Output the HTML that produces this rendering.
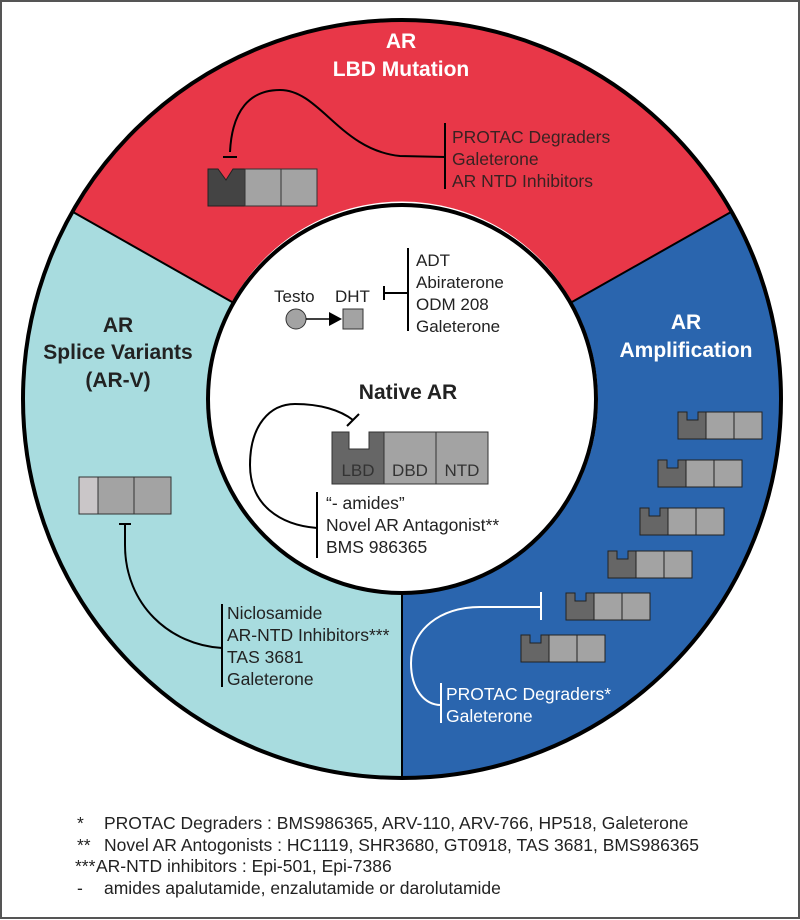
<!DOCTYPE html>
<html><head><meta charset="utf-8"><style>
html,body{margin:0;padding:0;background:#fff;}
svg{display:block;}
text{font-family:"Liberation Sans",Arial,sans-serif;}
</style></head><body>
<svg width="800" height="920" viewBox="0 0 800 920" xmlns="http://www.w3.org/2000/svg">
<rect x="1" y="1" width="798" height="917" fill="#fff" stroke="#555" stroke-width="2"/>
<!-- segments -->
<path d="M73,212 A379,379 0 0 1 731,212 L572,302 A194,194 0 0 0 232,302 Z" fill="#e83748"/>
<path d="M731,212 A379,379 0 0 1 402,778 L402,593 A194,194 0 0 0 572,302 Z" fill="#2a65ae"/>
<path d="M402,778 A379,379 0 0 1 73,212 L232,302 A194,194 0 0 0 402,593 Z" fill="#a8dcdf"/>
<line x1="73" y1="212" x2="232" y2="302" stroke="#000" stroke-width="2"/>
<line x1="731" y1="212" x2="572" y2="302" stroke="#000" stroke-width="2"/>
<line x1="402" y1="778" x2="402" y2="593" stroke="#000" stroke-width="2"/>
<circle cx="402" cy="399" r="379" fill="none" stroke="#000" stroke-width="4"/>
<circle cx="402" cy="399" r="194" fill="#fff" stroke="#000" stroke-width="4"/>

<!-- titles -->
<g font-weight="bold" font-size="21" text-anchor="middle">
<text x="401" y="48" fill="#fff">AR</text>
<text x="401" y="76" fill="#fff">LBD Mutation</text>
<text x="118" y="332" fill="#222">AR</text>
<text x="118" y="359" fill="#222">Splice Variants</text>
<text x="118" y="387" fill="#222">(AR-V)</text>
<text x="686" y="329" fill="#fff">AR</text>
<text x="686" y="357" fill="#fff">Amplification</text>
<text x="408" y="399" fill="#222">Native AR</text>
</g>

<!-- LBD mutation -->
<path d="M230,152 C232,110 250,90 280,90 C320,90 340,150 400,156 L445,157" fill="none" stroke="#000" stroke-width="2"/>
<line x1="223" y1="157" x2="237" y2="157" stroke="#000" stroke-width="2"/>
<line x1="445" y1="123" x2="445" y2="189" stroke="#000" stroke-width="2"/>
<path d="M208,169 L218,169 L226,180 L233,169 L245,169 L245,206 L208,206 Z" fill="#444" stroke="#222" stroke-width="1"/>
<rect x="245" y="169" width="36" height="37" fill="#a3a3a3" stroke="#333" stroke-width="1"/>
<rect x="281" y="169" width="36" height="37" fill="#a3a3a3" stroke="#333" stroke-width="1"/>
<g font-size="17.5" fill="#3a2222">
<text x="452" y="143">PROTAC Degraders</text>
<text x="452" y="165">Galeterone</text>
<text x="452" y="187">AR NTD Inhibitors</text>
</g>

<!-- native: testo/dht -->
<circle cx="296" cy="319" r="10" fill="#a3a3a3" stroke="#333" stroke-width="1"/>
<line x1="306" y1="319" x2="332" y2="319" stroke="#000" stroke-width="1.5"/>
<polygon points="329,312 342,319 329,326" fill="#000"/>
<rect x="343" y="309" width="20" height="20" fill="#a3a3a3" stroke="#333" stroke-width="1"/>
<g font-size="17" fill="#222">
<text x="274" y="302">Testo</text>
<text x="335" y="302">DHT</text>
<text x="416" y="266">ADT</text>
<text x="416" y="288">Abiraterone</text>
<text x="416" y="310">ODM 208</text>
<text x="416" y="332">Galeterone</text>
</g>
<line x1="384" y1="286" x2="384" y2="300" stroke="#000" stroke-width="2"/>
<line x1="384" y1="293" x2="408" y2="293" stroke="#000" stroke-width="2"/>
<line x1="408" y1="248" x2="408" y2="331" stroke="#000" stroke-width="2"/>

<!-- native AR block -->
<path d="M317,528 C280,525 250,505 250,465 C250,425 270,404 295,404 C320,404 340,410 353,420" fill="none" stroke="#000" stroke-width="2"/>
<line x1="347" y1="426" x2="359" y2="414" stroke="#000" stroke-width="2"/>
<path d="M332,432 L349,432 L349,449 L369,449 L369,432 L384,432 L384,484 L332,484 Z" fill="#666" stroke="#333" stroke-width="1"/>
<rect x="384" y="432" width="52" height="52" fill="#a3a3a3" stroke="#333" stroke-width="1"/>
<rect x="436" y="432" width="52" height="52" fill="#a3a3a3" stroke="#333" stroke-width="1"/>
<g font-size="17" fill="#333" text-anchor="middle">
<text x="358" y="476">LBD</text>
<text x="410" y="476">DBD</text>
<text x="462" y="476">NTD</text>
</g>
<line x1="317" y1="492" x2="317" y2="558" stroke="#000" stroke-width="2"/>
<g font-size="17.5" fill="#222">
<text x="326" y="509">“- amides”</text>
<text x="326" y="531">Novel AR Antagonist**</text>
<text x="326" y="553">BMS 986365</text>
</g>

<!-- splice variants -->
<rect x="79" y="477" width="19" height="37" fill="#cac6c8" stroke="#333" stroke-width="1"/>
<rect x="98" y="477" width="36" height="37" fill="#a3a3a3" stroke="#333" stroke-width="1"/>
<rect x="134" y="477" width="37" height="37" fill="#a3a3a3" stroke="#333" stroke-width="1"/>
<line x1="119" y1="524" x2="131" y2="524" stroke="#000" stroke-width="2"/>
<path d="M125,524 L125,545 C125,605 170,645 222,648" fill="none" stroke="#000" stroke-width="2"/>
<line x1="222" y1="604" x2="222" y2="687" stroke="#000" stroke-width="2"/>
<g font-size="17.5" fill="#222">
<text x="227" y="619">Niclosamide</text>
<text x="227" y="641">AR-NTD Inhibitors***</text>
<text x="227" y="663">TAS 3681</text>
<text x="227" y="685">Galeterone</text>
</g>

<!-- amplification blocks -->
<g stroke="#222" stroke-width="1">
<g transform="translate(678,412)"><path d="M0,0 L9,0 L9,8 L20,8 L20,0 L28,0 L28,27 L0,27 Z" fill="#666"/><rect x="28" y="0" width="28" height="27" fill="#a3a3a3"/><rect x="56" y="0" width="28" height="27" fill="#a3a3a3"/></g>
<g transform="translate(658,460)"><path d="M0,0 L9,0 L9,8 L20,8 L20,0 L28,0 L28,27 L0,27 Z" fill="#666"/><rect x="28" y="0" width="28" height="27" fill="#a3a3a3"/><rect x="56" y="0" width="28" height="27" fill="#a3a3a3"/></g>
<g transform="translate(640,508)"><path d="M0,0 L9,0 L9,8 L20,8 L20,0 L28,0 L28,27 L0,27 Z" fill="#666"/><rect x="28" y="0" width="28" height="27" fill="#a3a3a3"/><rect x="56" y="0" width="28" height="27" fill="#a3a3a3"/></g>
<g transform="translate(608,551)"><path d="M0,0 L9,0 L9,8 L20,8 L20,0 L28,0 L28,27 L0,27 Z" fill="#666"/><rect x="28" y="0" width="28" height="27" fill="#a3a3a3"/><rect x="56" y="0" width="28" height="27" fill="#a3a3a3"/></g>
<g transform="translate(566,593)"><path d="M0,0 L9,0 L9,8 L20,8 L20,0 L28,0 L28,27 L0,27 Z" fill="#666"/><rect x="28" y="0" width="28" height="27" fill="#a3a3a3"/><rect x="56" y="0" width="28" height="27" fill="#a3a3a3"/></g>
<g transform="translate(521,635)"><path d="M0,0 L9,0 L9,8 L20,8 L20,0 L28,0 L28,27 L0,27 Z" fill="#666"/><rect x="28" y="0" width="28" height="27" fill="#a3a3a3"/><rect x="56" y="0" width="28" height="27" fill="#a3a3a3"/></g>
</g>
<path d="M541,607 L480,607 C440,607 411,630 411,663 C411,690 425,705 441,705" fill="none" stroke="#fff" stroke-width="2"/>
<line x1="541" y1="592" x2="541" y2="620" stroke="#fff" stroke-width="2"/>
<line x1="441" y1="683" x2="441" y2="723" stroke="#fff" stroke-width="2"/>
<g font-size="17.5" fill="#fff">
<text x="446" y="700">PROTAC Degraders*</text>
<text x="446" y="722">Galeterone</text>
</g>

<!-- footnotes -->
<g font-size="17.5" fill="#222">
<text x="77" y="829">*</text><text x="104" y="829">PROTAC Degraders : BMS986365, ARV-110, ARV-766, HP518, Galeterone</text>
<text x="77" y="851">**</text><text x="104" y="851">Novel AR Antogonists : HC1119, SHR3680, GT0918, TAS 3681, BMS986365</text>
<text x="75" y="872">***</text><text x="96" y="872">AR-NTD inhibitors : Epi-501, Epi-7386</text>
<text x="77" y="894">-</text><text x="104" y="894">amides apalutamide, enzalutamide or darolutamide</text>
</g>
</svg>
</body></html>
